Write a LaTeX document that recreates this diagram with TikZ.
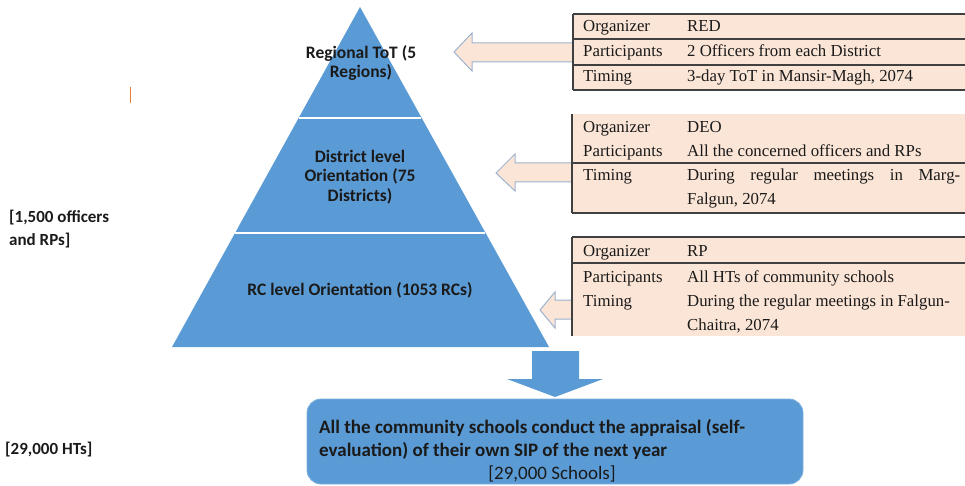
\documentclass[tikz,border=0pt]{standalone}
\usepackage{fontspec}
\setmainfont{Liberation Serif}
\newfontfamily\calfont{Carlito}
\definecolor{pyr}{HTML}{5B9BD5}
\definecolor{pinkf}{HTML}{FBE5D6}
\definecolor{arrb}{HTML}{9DB3CF}
\definecolor{tline}{HTML}{404040}
\definecolor{tickc}{HTML}{ED7D31}
\definecolor{txt}{HTML}{1A1A1A}
\tikzset{
  pyrtext/.style={align=center, text=txt, font=\calfont\bfseries\fontsize{17.5}{19.5}\selectfont, inner sep=0},
  sidetext/.style={anchor=west, text=txt, font=\calfont\bfseries\fontsize{17}{20}\selectfont, inner sep=0},
  boxtext/.style={anchor=west, text=txt, font=\calfont\bfseries\fontsize{19}{22}\selectfont, inner sep=0},
  cell/.style={anchor=base west, text=txt, font=\fontsize{16.8}{20}\selectfont, inner sep=0},
  tablefill/.style={fill=pinkf},
  tableline/.style={draw=tline, line width=1.3pt},
  pinkarrow/.style={fill=pinkf, draw=arrb, line width=1pt, line join=miter},
}
\begin{document}
\begin{tikzpicture}[x=1pt,y=-1pt]
\useasboundingbox (0,0) rectangle (965,486);

% pyramid
\coordinate (apex) at (360,7);
\coordinate (bl) at (172,347);
\coordinate (br) at (549,347);
\fill[pyr] (apex) -- (br) -- (bl) -- cycle;
\coordinate (d1l) at (298.6,118);
\coordinate (d1r) at (421.4,118);
\coordinate (d2l) at (235,233);
\coordinate (d2r) at (485,233);
\draw[white, line width=1.2pt] (d1l) -- (d1r);
\draw[white, line width=1.2pt] (d2l) -- (d2r);
\node[pyrtext] (reg) at (361,63) {Regional ToT (5\\Regions)};
\node[pyrtext] (dist) at (360,177) {District level\\Orientation (75\\Districts)};
\node[pyrtext] (rc) at (360,290) {RC level Orientation (1053 RCs)};

% pink arrows
\filldraw[pinkarrow] (573,43) -- (472,43) -- (472,33) -- (454,52) -- (472,71) -- (472,62) -- (573,62);
\filldraw[pinkarrow] (572,163) -- (515,163) -- (515,154) -- (496,173) -- (515,191) -- (515,182) -- (572,182);
\filldraw[pinkarrow] (572,300) -- (555,300) -- (555,292) -- (540,310) -- (555,328) -- (555,319) -- (572,319);

% table 1
\fill[tablefill] (573,14) rectangle (965,90);
\draw[tableline] (573,14) -- (965,14);
\draw[tableline] (573,39) -- (965,39);
\draw[tableline] (573,65) -- (965,65);
\draw[tableline] (573,90) -- (965,90);
\draw[tableline] (573,14) -- (573,90);
\node[cell] (t1a) at (583,32) {Organizer};
\node[cell] (t1b) at (687,32) {RED};
\node[cell] (t1c) at (583,57) {Participants};
\node[cell] (t1d) at (687,57) {2 Officers from each District};
\node[cell] (t1e) at (583,82) {Timing};
\node[cell] (t1f) at (687,82) {3-day ToT in Mansir-Magh, 2074};

% table 2
\fill[tablefill] (572,114) rectangle (965,213);
\draw[tableline] (572,163) -- (965,163);
\draw[tableline] (572,213) -- (965,213);
\draw[tableline] (572,114) -- (572,213);
\node[cell] (t2a) at (583,133) {Organizer};
\node[cell] (t2b) at (687,133) {DEO};
\node[cell] (t2c) at (583,157) {Participants};
\node[cell] (t2d) at (687,157) {All the concerned officers and RPs};
\node[cell] (t2e) at (583,181) {Timing};
\node[cell] (t2f) at (687,181) {\makebox[273pt][s]{During regular meetings in Marg-}};
\node[cell] (t2g) at (687,205) {Falgun, 2074};

% table 3
\fill[tablefill] (572,237) rectangle (965,336);
\draw[tableline] (572,237) -- (965,237);
\draw[tableline] (572,263) -- (965,263);
\draw[tableline] (572,237) -- (572,336);
\node[cell] (t3a) at (583,256) {Organizer};
\node[cell] (t3b) at (687,256) {RP};
\node[cell] (t3c) at (583,282) {Participants};
\node[cell] (t3d) at (687,282) {All HTs of community schools};
\node[cell] (t3e) at (583,306) {Timing};
\node[cell] (t3f) at (687,306) {During the regular meetings in Falgun-};
\node[cell] (t3g) at (687,330) {Chaitra, 2074};

% down arrow
\fill[pyr] (532,351) -- (579,351) -- (579,379) -- (603,379) -- (555,397) -- (507,379) -- (532,379) -- cycle;

% bottom box
\node[fill=pyr, draw=pyr!80!white, line width=0.8pt, rounded corners=14pt, minimum width=496pt, minimum height=85pt, inner sep=0] (box) at (555,441.5) {};
\node[boxtext] (b1) at (319,428) {All the community schools conduct the appraisal (self-};
\node[boxtext] (b2) at (319,451) {evaluation) of their own SIP of the next year};
\node[anchor=center, text=txt, font=\calfont\fontsize{19}{22}\selectfont, inner sep=0] (b3) at (552,474) {[29,000 Schools]};

% left labels
\node[sidetext] (l1) at (9,218) {[1,500 officers};
\node[sidetext] (l2) at (9,241) {and RPs]};
\node[sidetext] (l3) at (5,450) {[29,000 HTs]};

% orange tick
\coordinate (tk1) at (130,87);
\coordinate (tk2) at (130,103);
\draw[tickc, line width=1pt] (tk1) -- (tk2);
\end{tikzpicture}
\end{document}
